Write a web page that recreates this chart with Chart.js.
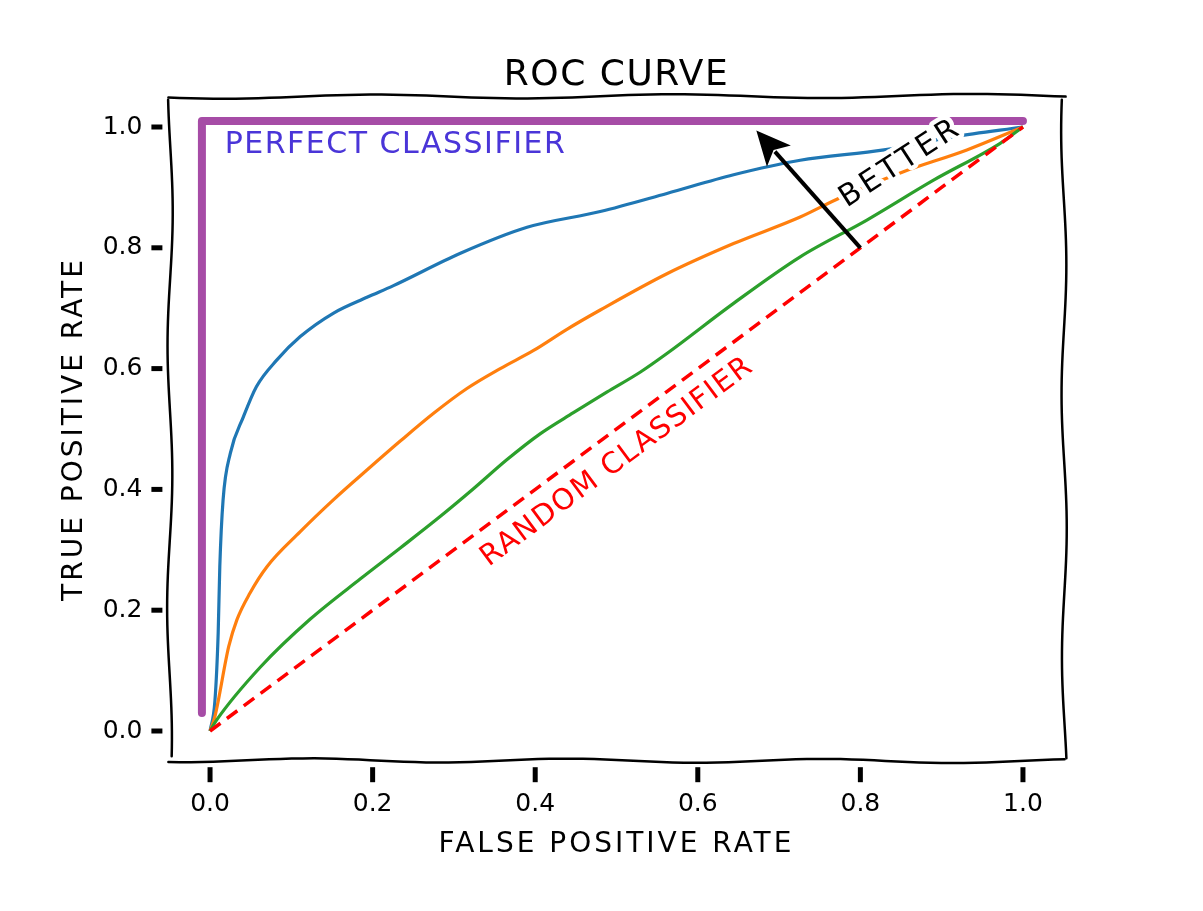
<!DOCTYPE html>
<html>
<head>
<meta charset="utf-8">
<script src="https://cdn.jsdelivr.net/npm/chart.js@4.4.1/dist/chart.umd.min.js"></script>
<style>
  body { margin: 0; background: #fff; }
</style>
</head>
<body>
<canvas id="roc-chart" width="1203" height="911"></canvas>
<script>
// tick labels shared by both axes
let tickValues = [0, 0.2, 0.4, 0.6, 0.8, 1.0]

// three classifiers (false positive rate / true positive rate)
let fprBlue = [0, 0.006, 0.010, 0.012, 0.016, 0.025, 0.041, 0.057, 0.082, 0.111, 0.152, 0.193, 0.225, 0.308, 0.39, 0.48, 0.562, 0.644, 0.726, 0.829, 0.915, 1.0]
let tprBlue = [0, 0.05, 0.162, 0.272, 0.382, 0.46, 0.52, 0.57, 0.614, 0.653, 0.692, 0.718, 0.737, 0.791, 0.834, 0.86, 0.89, 0.921, 0.945, 0.962, 0.984, 1.0]

let fprOrange = [0, 0.006, 0.023, 0.033, 0.049, 0.070, 0.111, 0.152, 0.193, 0.234, 0.275, 0.316, 0.357, 0.398, 0.439, 0.48, 0.562, 0.644, 0.726, 0.775, 0.853, 0.931, 1.0]
let tprOrange = [0, 0.024, 0.14, 0.184, 0.228, 0.272, 0.330, 0.383, 0.432, 0.48, 0.526, 0.567, 0.60, 0.63, 0.665, 0.697, 0.757, 0.807, 0.851, 0.883, 0.926, 0.962, 1.0]

let fprGreen = [0, 0.008, 0.062, 0.123, 0.185, 0.234, 0.283, 0.324, 0.365, 0.406, 0.447, 0.488, 0.529, 0.562, 0.644, 0.726, 0.808, 0.89, 0.972, 1.0]
let tprGreen = [0, 0.018, 0.106, 0.185, 0.252, 0.303, 0.355, 0.401, 0.449, 0.492, 0.527, 0.561, 0.594, 0.625, 0.708, 0.785, 0.846, 0.912, 0.973, 1.0]

// reference lines
let fprRandom = [0, 1]
let tprRandom = [0, 1]
let fprPerfect = [-0.01, -0.01, 1.0]
let tprPerfect = [0.03, 1.01, 1.01]

// the "better" arrow: tail then head
let arrowFpr = [0.8, 0.672]
let arrowTpr = [0.8, 0.994]

let font = 'DejaVu Sans'
Chart.defaults.font.family = font
Chart.defaults.color = '#000'

function toPoints(xs, ys) {
    return xs.map((x, i) => ({x: x, y: ys[i]}))
}

// wavy line between two points, xkcd style
function wobble(ctx, x0, y0, x1, y1, amp, waves, phase) {
    let len = Math.hypot(x1 - x0, y1 - y0)
    let nx = -(y1 - y0) / len, ny = (x1 - x0) / len
    ctx.beginPath()
    for (let i = 0; i <= 80; i++) {
        let t = i / 80
        let off = amp * Math.sin(2 * Math.PI * waves * t + phase)
        let x = x0 + (x1 - x0) * t + nx * off
        let y = y0 + (y1 - y0) * t + ny * off
        if (i === 0) ctx.moveTo(x, y); else ctx.lineTo(x, y)
    }
    ctx.stroke()
}

// text with white halo
function sketchText(ctx, text, x, y, o) {
    ctx.save()
    ctx.translate(x, y)
    ctx.rotate(o.angle || 0)
    ctx.font = o.size + 'px "' + font + '"'
    ctx.letterSpacing = (o.spacing || 0) + 'px'
    ctx.textAlign = o.align || 'center'
    ctx.textBaseline = o.baseline || 'alphabetic'
    if (o.halo) {
        ctx.strokeStyle = '#fff'
        ctx.lineWidth = o.halo
        ctx.lineJoin = 'round'
        ctx.strokeText(text, 0, 0)
    }
    ctx.fillStyle = o.color || '#000'
    ctx.fillText(text, 0, 0)
    ctx.restore()
}

let xkcdPlugin = {
    id: 'xkcd',
    afterDatasetsDraw(chart) {
        let ctx = chart.ctx
        let area = chart.chartArea
        let xs = chart.scales.x, ys = chart.scales.y

        // arrow
        let tx = xs.getPixelForValue(arrowFpr[0]), ty = ys.getPixelForValue(arrowTpr[0])
        let hx = xs.getPixelForValue(arrowFpr[1]), hy = ys.getPixelForValue(arrowTpr[1])
        let ang = Math.atan2(hy - ty, hx - tx)
        let headLen = 34, headW = 16
        let bx = hx - headLen * Math.cos(ang), by = hy - headLen * Math.sin(ang)
        ctx.save()
        ctx.strokeStyle = '#000'
        ctx.fillStyle = '#000'
        ctx.lineWidth = 4
        ctx.beginPath()
        ctx.moveTo(tx, ty)
        ctx.lineTo(bx + 6 * Math.cos(ang), by + 6 * Math.sin(ang))
        ctx.stroke()
        ctx.beginPath()
        ctx.moveTo(hx, hy)
        ctx.lineTo(bx - headW * Math.sin(ang), by + headW * Math.cos(ang))
        ctx.lineTo(bx + 8 * Math.cos(ang), by + 8 * Math.sin(ang))
        ctx.lineTo(bx + headW * Math.sin(ang), by - headW * Math.cos(ang))
        ctx.closePath()
        ctx.fill()
        ctx.restore()

        // annotations
        let diag = Math.atan2(ys.getPixelForValue(1) - ys.getPixelForValue(0),
                              xs.getPixelForValue(1) - xs.getPixelForValue(0))
        sketchText(ctx, 'PERFECT CLASSIFIER', xs.getPixelForValue(0.018), ys.getPixelForValue(0.957),
            {size: 30, spacing: 1.5, align: 'left', color: '#4a35d8', halo: 5})
        sketchText(ctx, 'RANDOM CLASSIFIER', xs.getPixelForValue(0.501), ys.getPixelForValue(0.445),
            {size: 29, spacing: 1.5, baseline: 'middle', angle: diag, color: '#ff0000', halo: 5})
        sketchText(ctx, 'BETTER', xs.getPixelForValue(0.85), ys.getPixelForValue(0.94),
            {size: 30, spacing: 4, baseline: 'middle', angle: -33 * Math.PI / 180, color: '#000', halo: 9})

        // frame
        ctx.save()
        ctx.strokeStyle = '#000'
        ctx.lineWidth = 2.5
        ctx.lineCap = 'round'
        wobble(ctx, area.left - 1, area.top, area.right + 2, area.top - 1, 2, 3, 0.4)
        wobble(ctx, area.left - 1, area.bottom - 1, area.right + 1, area.bottom, 2, 3.5, 1.2)
        wobble(ctx, area.left + 1, area.top + 3, area.left, area.bottom - 5, 2.5, 2.5, 2.0)
        wobble(ctx, area.right, area.top + 3, area.right + 1, area.bottom - 3, 2.5, 2.5, 0.8)
        ctx.restore()

        // tick marks, set off from the spines
        ctx.save()
        ctx.strokeStyle = '#000'
        ctx.lineWidth = 5
        tickValues.forEach(function(v) {
            let px = xs.getPixelForValue(v)
            ctx.beginPath()
            ctx.moveTo(px, area.bottom + 6)
            ctx.lineTo(px, area.bottom + 21)
            ctx.stroke()
            let py = ys.getPixelForValue(v)
            ctx.beginPath()
            ctx.moveTo(area.left - 18, py)
            ctx.lineTo(area.left - 7, py)
            ctx.stroke()
        })
        ctx.restore()

        // title and axis labels
        let midX = (area.left + area.right) / 2
        let midY = (area.top + area.bottom) / 2
        sketchText(ctx, 'ROC CURVE', midX, 85, {size: 36, spacing: 1.5})
        sketchText(ctx, 'FALSE POSITIVE RATE', midX, 852, {size: 28, spacing: 3})
        sketchText(ctx, 'TRUE POSITIVE RATE', 82, midY, {size: 28, spacing: 3, angle: -Math.PI / 2})
    }
}

let canvas = document.querySelector('#roc-chart')
let context = canvas.getContext('2d')

let axisOptions = function(side) {
    return {
        type: 'linear',
        min: -0.05,
        max: 1.05,
        grid: {display: false, drawTicks: false},
        border: {display: false},
        ticks: {
            font: {size: 25},
            color: '#000',
            padding: side === 'x' ? 28 : 27,
            callback: v => v.toFixed(1)
        },
        afterBuildTicks: axis => { axis.ticks = tickValues.map(v => ({value: v})) },
        afterFit: scale => {
            if (side === 'x') scale.height = 60
            else scale.width = 169.4
        }
    }
}

let chart = new Chart(context, {
    type: 'line',
    data: {
        datasets: [
            {
                label: 'perfect',
                data: toPoints(fprPerfect, tprPerfect),
                borderColor: 'rgba(128, 0, 128, 0.7)',
                borderWidth: 8,
                borderCapStyle: 'round',
                borderJoinStyle: 'round',
                tension: 0
            },
            {
                label: 'random',
                data: toPoints(fprRandom, tprRandom),
                borderColor: '#ff0000',
                borderWidth: 3.5,
                borderDash: [13, 8],
                tension: 0
            },
            {
                label: 'green',
                data: toPoints(fprGreen, tprGreen),
                borderColor: '#2ca02c',
                borderWidth: 3.2,
                cubicInterpolationMode: 'monotone'
            },
            {
                label: 'orange',
                data: toPoints(fprOrange, tprOrange),
                borderColor: '#ff7f0e',
                borderWidth: 3.2,
                cubicInterpolationMode: 'monotone'
            },
            {
                label: 'blue',
                data: toPoints(fprBlue, tprBlue),
                borderColor: '#1f77b4',
                borderWidth: 3.2,
                cubicInterpolationMode: 'monotone'
            }
        ]
    },
    options: {
        responsive: false,
        animation: false,
        elements: {point: {radius: 0, hoverRadius: 0}},
        layout: {padding: {left: 0, right: 139.4, top: 96.8, bottom: 89.8}},
        plugins: {legend: {display: false}, tooltip: {enabled: false}},
        scales: {x: axisOptions('x'), y: axisOptions('y')}
    },
    plugins: [xkcdPlugin]
})
</script>
</body>
</html>
